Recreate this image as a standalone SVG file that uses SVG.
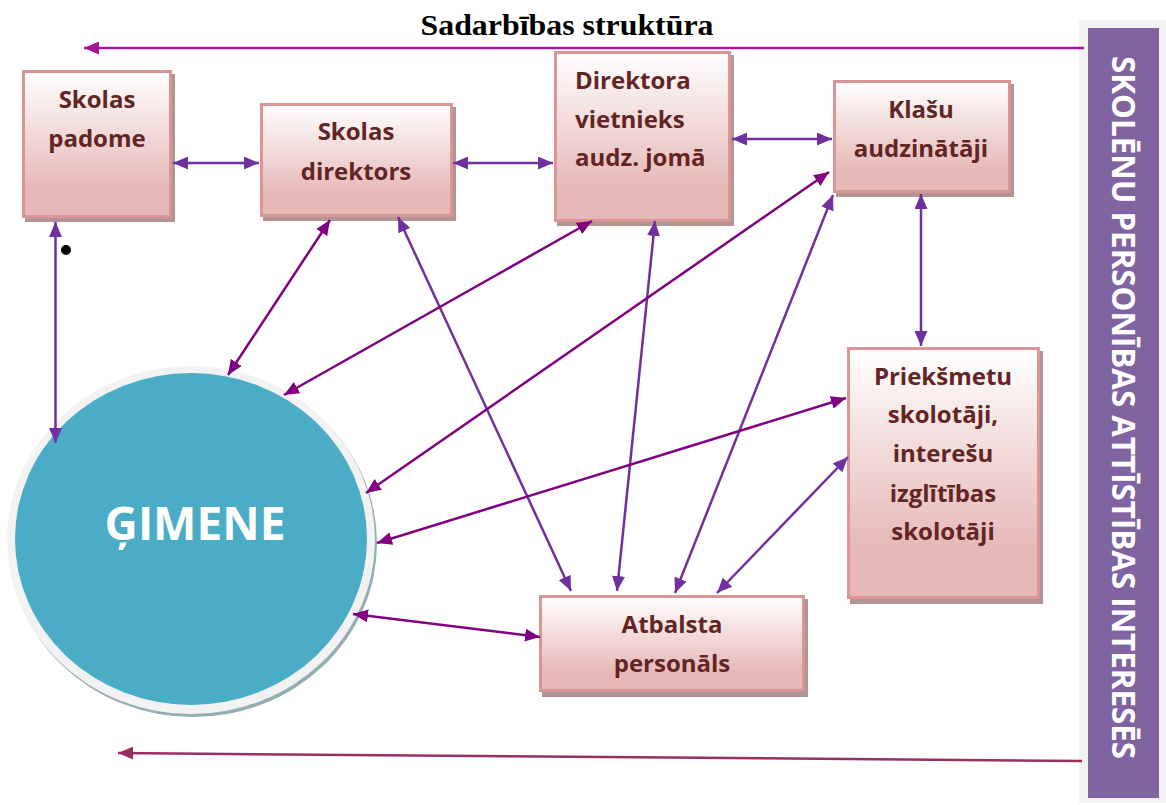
<svg xmlns="http://www.w3.org/2000/svg" width="1166" height="805" viewBox="0 0 1166 805">
<defs>
  <linearGradient id="boxGrad" x1="0" y1="0" x2="0" y2="1">
    <stop offset="0" stop-color="#ffffff"/>
    <stop offset="0.8" stop-color="#e6b9b8"/>
    <stop offset="1" stop-color="#e6b9b8"/>
  </linearGradient>
  <marker id="mv" viewBox="0 0 15 13" refX="15" refY="6.5" markerWidth="15" markerHeight="13" markerUnits="userSpaceOnUse" orient="auto-start-reverse">
    <path d="M0,0 L15,6.5 L0,13 z" fill="#7030a0"/>
  </marker>
  <marker id="mm" viewBox="0 0 15 13" refX="15" refY="6.5" markerWidth="15" markerHeight="13" markerUnits="userSpaceOnUse" orient="auto-start-reverse">
    <path d="M0,0 L15,6.5 L0,13 z" fill="#800080"/>
  </marker>
  <marker id="mt" viewBox="0 0 15 13" refX="15" refY="6.5" markerWidth="15" markerHeight="13" markerUnits="userSpaceOnUse" orient="auto">
    <path d="M0,0 L15,6.5 L0,13 z" fill="#a0169f"/>
  </marker>
  <marker id="mb" viewBox="0 0 15 13" refX="15" refY="6.5" markerWidth="15" markerHeight="13" markerUnits="userSpaceOnUse" orient="auto">
    <path d="M0,0 L15,6.5 L0,13 z" fill="#98305f"/>
  </marker>
</defs>
<style>
  .shadow { fill: #b39494; }
  .box { fill: url(#boxGrad); stroke: #d99694; stroke-width: 3; }
  .lbl { font-family: "Open Sans", "Liberation Sans", sans-serif; font-weight: bold; font-size: 24px; fill: #632523; }
  .c { text-anchor: middle; }
  .v { stroke: #7030a0; stroke-width: 2.5; fill: none; marker-start: url(#mv); marker-end: url(#mv); }
  .m { stroke: #800080; stroke-width: 2.5; fill: none; marker-start: url(#mm); marker-end: url(#mm); }
</style>
<rect width="1166" height="805" fill="#ffffff"/>

<!-- Title and side panel -->
<g id="title">
  <text x="567" y="35" text-anchor="middle" font-family="Liberation Serif, serif" font-weight="bold" font-size="30" fill="#000000" textLength="293" lengthAdjust="spacingAndGlyphs">Sadarbības struktūra</text>
</g>
<g id="side-panel">
  <rect x="1079" y="20" width="87" height="783" fill="#f2f2f2"/>
  <rect x="1088" y="28" width="71" height="770" fill="#8064a2"/>
  <text transform="translate(1112,407.5) rotate(90)" x="0" y="0" text-anchor="middle" font-family="Open Sans, Liberation Sans, sans-serif" font-weight="bold" font-size="33" fill="#ffffff" textLength="703" lengthAdjust="spacingAndGlyphs">SKOLĒNU PERSONĪBAS ATTĪSTĪBAS INTERESĒS</text>
</g>

<!-- Family -->
<g id="gimene">
  <ellipse cx="193" cy="543" rx="184" ry="174" fill="#94acb4"/>
  <ellipse cx="191" cy="540" rx="184" ry="174" fill="#f2f2f2"/>
  <ellipse cx="191" cy="539" rx="176" ry="166" fill="#4bacc6"/>
  <text x="195" y="540" text-anchor="middle" font-family="Open Sans, Liberation Sans, sans-serif" font-weight="bold" font-size="46" fill="#ffffff">ĢIMENE</text>
</g>

<!-- Boxes -->
<g id="skolas-padome">
  <rect class="shadow" x="25" y="74" width="150" height="148"/>
  <rect class="box" x="23.5" y="71.5" width="147" height="145"/>
  <text class="lbl c" x="97" y="108">Skolas</text>
  <text class="lbl c" x="97" y="147">padome</text>
</g>
<g id="skolas-direktors">
  <rect class="shadow" x="263" y="107" width="193" height="114"/>
  <rect class="box" x="261.5" y="104.5" width="190" height="111"/>
  <text class="lbl c" x="356" y="140">Skolas</text>
  <text class="lbl c" x="356" y="180">direktors</text>
</g>
<g id="direktora-vietnieks">
  <rect class="shadow" x="557" y="55" width="177" height="171"/>
  <rect class="box" x="555.5" y="52.5" width="174" height="168"/>
  <text class="lbl" x="575" y="89">Direktora</text>
  <text class="lbl" x="575" y="128">vietnieks</text>
  <text class="lbl" x="575" y="166">audz. jomā</text>
</g>
<g id="klasu-audzinataji">
  <rect class="shadow" x="836" y="84" width="178" height="113"/>
  <rect class="box" x="834.5" y="81.5" width="175" height="110"/>
  <text class="lbl c" x="921" y="118">Klašu</text>
  <text class="lbl c" x="921" y="157">audzinātāji</text>
</g>
<g id="prieksmetu-skolotaji">
  <rect class="shadow" x="850" y="351" width="193" height="253"/>
  <rect class="box" x="848.5" y="348.5" width="190" height="249"/>
  <text class="lbl c" x="943" y="385">Priekšmetu</text>
  <text class="lbl c" x="943" y="423">skolotāji,</text>
  <text class="lbl c" x="943" y="462">interešu</text>
  <text class="lbl c" x="943" y="502">izglītības</text>
  <text class="lbl c" x="943" y="540">skolotāji</text>
</g>
<g id="atbalsta-personals">
  <rect class="shadow" x="542" y="599" width="266" height="98"/>
  <rect class="box" x="540.5" y="596.5" width="263" height="94"/>
  <text class="lbl c" x="672" y="633">Atbalsta</text>
  <text class="lbl c" x="672" y="672">personāls</text>
</g>

<circle cx="66" cy="250" r="5" fill="#000000"/>

<!-- Connectors -->
<g id="connectors">
  <line x1="1084" y1="48" x2="84" y2="48" stroke="#a0169f" stroke-width="2.5" marker-end="url(#mt)"/>
  <line x1="1082" y1="761" x2="118" y2="753" stroke="#98305f" stroke-width="2.5" marker-end="url(#mb)"/>

  <line class="v" x1="173" y1="163" x2="259" y2="163"/>
  <line class="v" x1="453" y1="163" x2="553" y2="163"/>
  <line class="v" x1="732" y1="139" x2="832" y2="139"/>
  <line class="v" x1="55.5" y1="222" x2="55.5" y2="443"/>
  <line class="v" x1="398" y1="217" x2="571" y2="591"/>
  <line class="v" x1="655" y1="221" x2="617" y2="591"/>
  <line class="v" x1="833" y1="195" x2="675" y2="593"/>
  <line class="v" x1="921" y1="194" x2="921" y2="346"/>
  <line class="v" x1="848" y1="457" x2="717" y2="593"/>

  <line class="m" x1="330" y1="220" x2="228" y2="375"/>
  <line class="m" x1="592" y1="221" x2="284" y2="395"/>
  <line class="m" x1="829" y1="172" x2="366" y2="493"/>
  <line class="m" x1="846" y1="398" x2="377" y2="543"/>
  <line class="m" x1="540" y1="637" x2="353" y2="614"/>
</g>
</svg>
